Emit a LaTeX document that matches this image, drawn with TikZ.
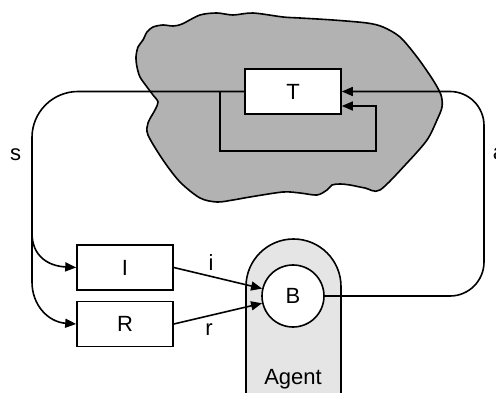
\documentclass[tikz,border=0pt]{standalone}
\usepackage{fontspec}
\setmainfont{Liberation Sans}
\usetikzlibrary{arrows.meta}

\begin{document}
\begin{tikzpicture}[x=1pt,y=-1pt]
  \tikzset{box/.style = {shape=rectangle,draw,line width=1.6pt,minimum width=96pt,minimum height=45pt,inner sep=0pt,font=\fontsize{22}{26}\selectfont}}
  \tikzset{wire/.style = {line width=1.6pt}}
  \tikzset{tip/.style = {-{Triangle[length=11pt,width=9pt]}}}
  \tikzset{lbl/.style = {anchor=base,inner sep=0pt,font=\fontsize{22}{26}\selectfont}}
  \definecolor{cloudgray}{gray}{0.7}
  \definecolor{agentgray}{gray}{0.9}

  \useasboundingbox (0,0) rectangle (496,393);

  % environment
  \draw[wire,fill=cloudgray] plot[smooth cycle,tension=0.5] coordinates {
    (182,24) (200,15) (217,13) (233,15) (253,13) (283,17) (300,18) (333,20)
    (367,23) (383,27) (400,37) (417,57) (433,80) (441,95) (442,107) (437,120)
    (427,140) (407,163) (380,190) (365,188) (350,185) (340,184) (332,185)
    (327,190) (317,195) (300,193) (283,192) (250,197) (233,200) (217,202)
    (200,198) (180,182) (163,160) (148,135) (148,123) (155,110) (158,102)
    (153,95) (147,87) (140,77) (137,67) (136,57) (138,47) (143,40) (147,32)
    (153,27) (163,25) (173,26)};

  % agent
  \draw[wire,fill=agentgray] (246,400) -- (246,286.5)
    arc[start angle=180,end angle=360,radius=47.5] -- (341,400);

	\node[box,fill=white] (T) at (293,91.5) {T};
	\node[box] (I) at (125,267.5) {I};
	\node[box] (R) at (125,324) {R};
	\node[box,shape=circle,fill=white,minimum size=62pt] (B) at (293,296) {B};

  \coordinate (fb) at (220,91.5);
  \coordinate (sI) at (32,233);
  \coordinate (sR) at (32,282);
  \coordinate (aTop) at (484,91.5);

  \draw[wire,rounded corners=46] (T.west) -| (sR);
  \draw[wire,tip] (sI) .. controls (32,256) and (48,266) .. (I.west);
  \draw[wire,tip] (sR) .. controls (32,305) and (48,322) .. (R.west);
  \draw[wire,tip] (fb) |- (376,151) |- ([yshift=-14.5pt]T.east);
  \draw[wire,tip,rounded corners=34] (B.east) -| (aTop) -- (T.east);
  \draw[wire,tip] (I.east) -- (B);
  \draw[wire,tip] (R.east) -- (B);

	\node[lbl] (s) at (15.5,161) {s};
	\node[lbl] (a) at (499,160) {a};
	\node[lbl] (i) at (211,271) {i};
	\node[lbl] (r) at (209,335) {r};
	\node[lbl] (agent) at (293,384) {Agent};
\end{tikzpicture}
\end{document}
